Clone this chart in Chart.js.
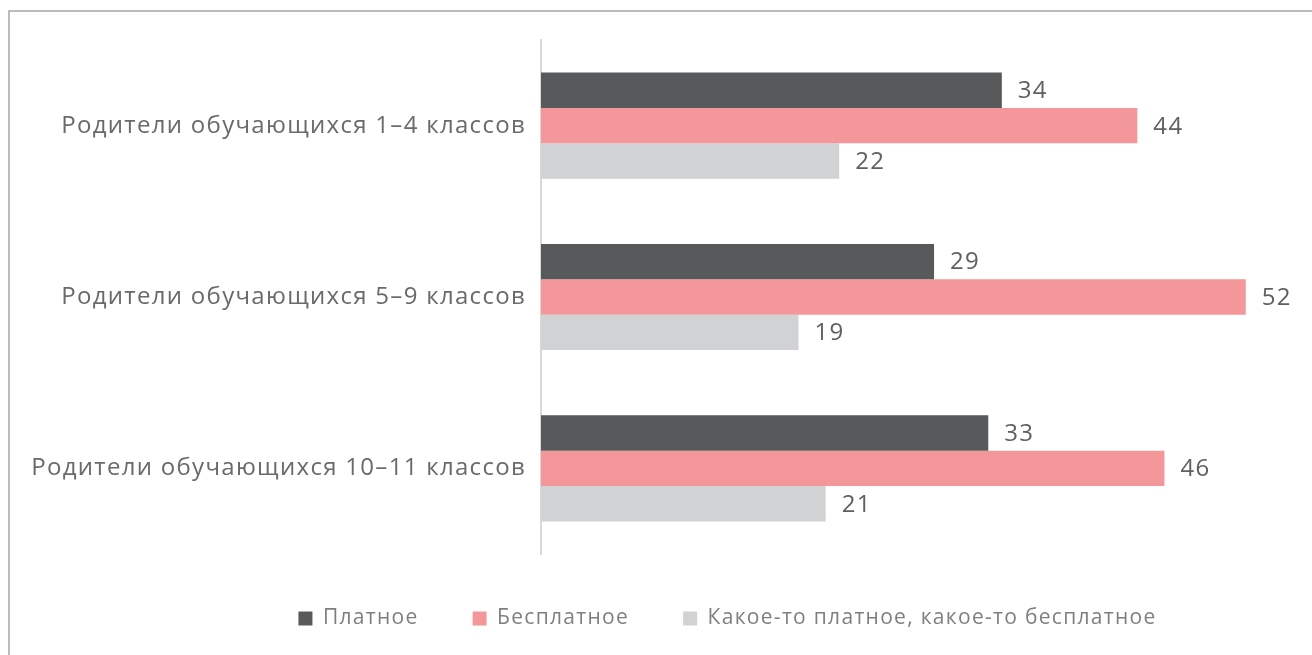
<!DOCTYPE html>
<html>
<head>
<meta charset="utf-8">
<script src="https://cdn.jsdelivr.net/npm/chart.js@4"></script>
<style>
  html, body { margin: 0; padding: 0; background: #fff; }
  #wrap { width: 1312px; height: 655px; }
</style>
</head>
<body>
<div id="wrap"><canvas id="chart" width="1312" height="655"></canvas></div>
<script>
const categories = ["Родители обучающихся 1–4 классов", "Родители обучающихся 5–9 классов", "Родители обучающихся 10–11 классов"];
const seriesNames = ["Платное", "Бесплатное", "Какое-то платное, какое-то бесплатное"];
const paid = [34, 29, 33];
const free = [44, 52, 46];
const mixed = [22, 19, 21];
const colors = ['#58595b', '#f4979a', '#d1d2d4'];

const fontFamily = "'Open Sans', 'Noto Sans', sans-serif";

// the original font is a wide one, so open up the letters a bit
function widen(chart) {
  chart.ctx.letterSpacing = '1.3px';
}

// frame around the whole chart
const framePlugin = {
  id: 'frame',
  beforeUpdate(chart) { widen(chart); },
  afterLayout(chart) {
    // left padding is only there to push the legend right;
    // let the category labels use that space too
    chart.scales.y.left = 0;
  },
  beforeDraw(chart) {
    widen(chart);
    const c = chart.ctx;
    c.save();
    c.strokeStyle = '#a6a6a6';
    c.lineWidth = 1.5;
    c.strokeRect(9, 11, chart.width + 20, chart.height + 20);
    c.restore();
  }
};

// numbers to the right of each bar
const valueLabels = {
  id: 'valueLabels',
  afterDatasetsDraw(chart) {
    const c = chart.ctx;
    c.save();
    c.font = '24px ' + fontFamily;
    c.fillStyle = '#606060';
    c.textBaseline = 'middle';
    c.textAlign = 'left';
    chart.data.datasets.forEach((ds, i) => {
      chart.getDatasetMeta(i).data.forEach((bar, j) => {
        c.fillText(ds.data[j], bar.x + 16, bar.y + 1);
      });
    });
    c.restore();
  }
};

new Chart(document.getElementById('chart'), {
  type: 'bar',
  data: {
    labels: categories,
    datasets: seriesNames.map((name, i) => ({
      label: name,
      data: [paid, free, mixed][i],
      backgroundColor: colors[i],
      categoryPercentage: 0.62,
      barPercentage: 1.0
    }))
  },
  options: {
    indexAxis: 'y',
    responsive: false,
    animation: false,
    layout: { padding: { top: 40, right: 12, bottom: 16, left: 155 } },
    scales: {
      x: { display: false, min: 0, max: 56 },
      y: {
        grid: { display: false },
        border: { display: true, color: '#d9d9d9', width: 2 },
        ticks: { padding: 7, color: '#6a6a6a', font: { family: fontFamily, size: 24 } },
        afterFit(scale) { scale.width = 386; }
      }
    },
    plugins: {
      legend: {
        position: 'bottom',
        labels: {
          boxWidth: 14,
          boxHeight: 14,
          padding: 54,
          color: '#7f7f7f',
          font: { family: fontFamily, size: 21 }
        }
      },
      tooltip: { enabled: false }
    }
  },
  plugins: [framePlugin, valueLabels]
});
</script>
</body>
</html>
